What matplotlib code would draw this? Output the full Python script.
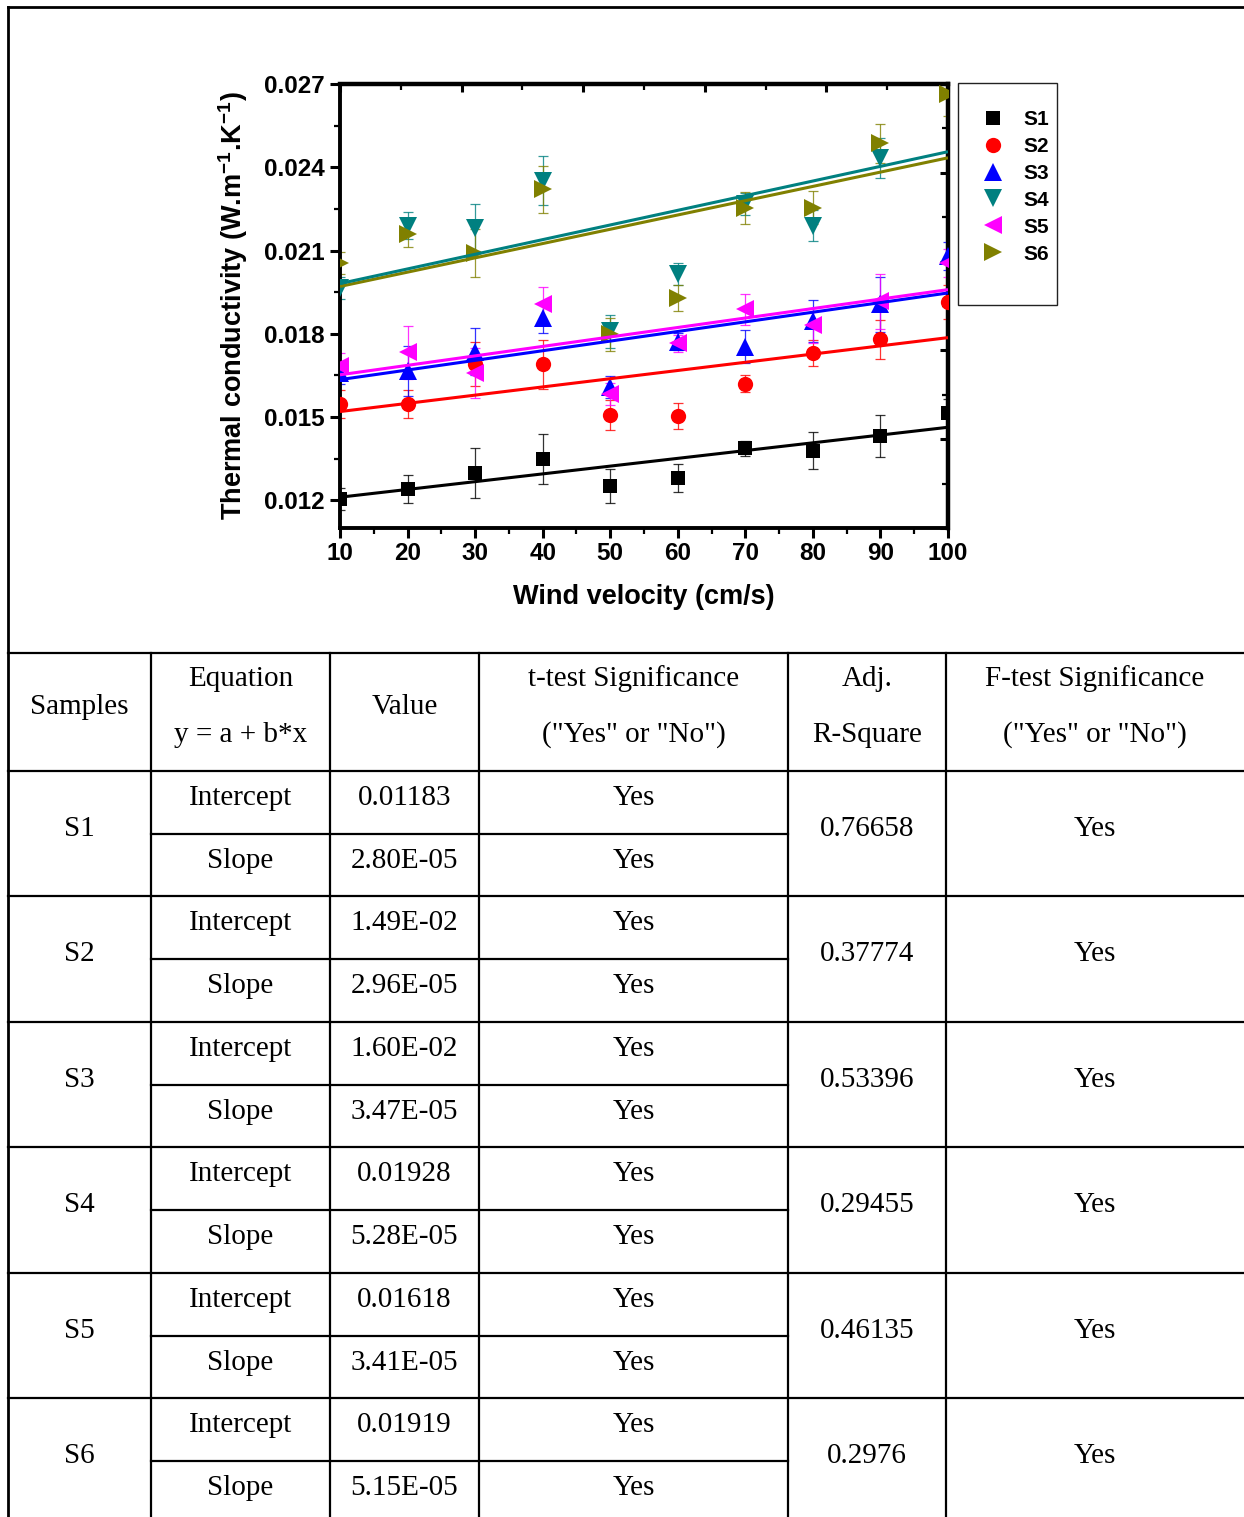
import numpy as np
import matplotlib
matplotlib.use("Agg")
import matplotlib.pyplot as plt
from matplotlib.patches import Rectangle
from matplotlib.ticker import MultipleLocator, FixedLocator, FormatStrFormatter

# ---------------- data ----------------
velocity = [10, 20, 30, 40, 50, 60, 70, 80, 90, 100]

s1_k = [0.01204, 0.01240, 0.01298, 0.01349, 0.01251, 0.01280, 0.01388, 0.01378, 0.01432, 0.01515]
s1_err = [0.00040, 0.00050, 0.00090, 0.00090, 0.00060, 0.00050, 0.00027, 0.00067, 0.00075, 0.00050]

s2_k = [0.01548, 0.01548, 0.01690, 0.01690, 0.01508, 0.01504, 0.01620, 0.01730, 0.01780, 0.01914]
s2_err = [0.00050, 0.00050, 0.00080, 0.00088, 0.00055, 0.00047, 0.00030, 0.00047, 0.00070, 0.00060]

s3_k = [0.01660, 0.01667, 0.01736, 0.01856, 0.01609, 0.01772, 0.01754, 0.01845, 0.01906, 0.02080]
s3_err = [0.00040, 0.00090, 0.00085, 0.00055, 0.00040, 0.00030, 0.00060, 0.00075, 0.00100, 0.00050]

s4_k = [0.01965, 0.02190, 0.02182, 0.02352, 0.01809, 0.02015, 0.02269, 0.02190, 0.02432, 0.02740]
s4_err = [0.00040, 0.00050, 0.00085, 0.00087, 0.00060, 0.00040, 0.00040, 0.00055, 0.00072, 0.00060]

s5_k = [0.01682, 0.01733, 0.01657, 0.01907, 0.01584, 0.01765, 0.01888, 0.01830, 0.01917, 0.02055]
s5_err = [0.00050, 0.00095, 0.00090, 0.00060, 0.00040, 0.00030, 0.00056, 0.00063, 0.00100, 0.00050]

s6_k = [0.02055, 0.02160, 0.02091, 0.02320, 0.01798, 0.01928, 0.02254, 0.02254, 0.02486, 0.02663]
s6_err = [0.00040, 0.00047, 0.00085, 0.00085, 0.00060, 0.00047, 0.00058, 0.00060, 0.00070, 0.00080]

samples = ["S1", "S2", "S3", "S4", "S5", "S6"]
intercept_text = ["0.01183", "1.49E-02", "1.60E-02", "0.01928", "0.01618", "0.01919"]
slope_text = ["2.80E-05", "2.96E-05", "3.47E-05", "5.28E-05", "3.41E-05", "5.15E-05"]
t_test_intercept = ["Yes", "Yes", "Yes", "Yes", "Yes", "Yes"]
t_test_slope = ["Yes", "Yes", "Yes", "Yes", "Yes", "Yes"]
adj_r2_text = ["0.76658", "0.37774", "0.53396", "0.29455", "0.46135", "0.2976"]
f_test = ["Yes", "Yes", "Yes", "Yes", "Yes", "Yes"]

header_cols = ["Samples", "Equation\ny = a + b*x", "Value",
               "t-test Significance\n(\"Yes\" or \"No\")", "Adj.\nR-Square",
               "F-test Significance\n(\"Yes\" or \"No\")"]

series_k = [s1_k, s2_k, s3_k, s4_k, s5_k, s6_k]
series_err = [s1_err, s2_err, s3_err, s4_err, s5_err, s6_err]

# ---------------- style ----------------
colors = ["#000000", "#ff0000", "#0000ff", "#008080", "#ff00ff", "#808000"]
markers = ["s", "o", "^", "v", "<", ">"]
marker_sizes = [10.5, 11, 13, 13, 13, 13]

plt.rcParams["font.family"] = ["Liberation Sans", "DejaVu Sans"]
plt.rcParams["font.weight"] = "bold"
plt.rcParams["mathtext.fontset"] = "custom"
plt.rcParams["mathtext.rm"] = "Liberation Sans:bold"
plt.rcParams["mathtext.default"] = "rm"

W, H = 1244, 1517
fig = plt.figure(figsize=(W / 100, H / 100), dpi=100)

# full-figure pixel canvas for the table and frames
tab = fig.add_axes([0, 0, 1, 1], zorder=0)
tab.set_xlim(0, W)
tab.set_ylim(H, 0)
tab.axis("off")

ax = fig.add_axes([340 / W, 1 - 528 / H, 608 / W, 444 / H], zorder=2)
ax.patch.set_alpha(0)

x = np.array(velocity, dtype=float)
x_fit = np.linspace(x.min(), x.max(), 50)
handles = []
for i in range(6):
    ax.errorbar(x, series_k[i], yerr=series_err[i], fmt="none", ecolor=colors[i],
                elinewidth=0.9, capsize=3.6, capthick=0.9, alpha=0.8, zorder=2)
    h, = ax.plot(x, series_k[i], linestyle="none", marker=markers[i], color=colors[i],
                 markersize=marker_sizes[i], markeredgewidth=0, label=samples[i], zorder=3)
    handles.append(h)

fit_order = [0, 1, 2, 4, 5, 3]
for i in fit_order:
    a = float(intercept_text[i])
    b = float(slope_text[i])
    ax.plot(x_fit, a + b * x_fit, color=colors[i], lw=2.2, zorder=4,
            solid_capstyle="butt")

ax.set_xlim(10, 100)
ax.set_ylim(0.011, 0.027)
ax.xaxis.set_major_locator(MultipleLocator(10))
ax.xaxis.set_minor_locator(MultipleLocator(5))
ax.yaxis.set_major_locator(FixedLocator([0.012, 0.015, 0.018, 0.021, 0.024, 0.027]))
ax.yaxis.set_minor_locator(FixedLocator([0.0105, 0.0135, 0.0165, 0.0195, 0.0225, 0.0255]))
ax.xaxis.set_major_formatter(FormatStrFormatter("%d"))
ax.yaxis.set_major_formatter(FormatStrFormatter("%.3f"))
ax.tick_params(axis="both", which="major", direction="out", length=7, width=2.2,
               labelsize=17.5, top=False, right=False)
ax.tick_params(axis="both", which="minor", direction="out", length=4, width=1.6,
               top=False, right=False)
ax.tick_params(axis="x", which="major", pad=3)
ax.tick_params(axis="y", which="major", pad=4)
for sp in ax.spines.values():
    sp.set_linewidth(2.8)

# mirrored top / right axes with their own 0-100 scale, ticks pointing inward
top = ax.secondary_xaxis("top", functions=(lambda v: (v - 10) / 90 * 100,
                                           lambda t: 10 + t * 0.9))
top.xaxis.set_major_locator(FixedLocator([0, 20, 40, 60, 80, 100]))
top.xaxis.set_minor_locator(FixedLocator([10, 30, 50, 70, 90]))
top.tick_params(which="major", direction="in", length=6, width=2.2, labeltop=False)
top.tick_params(which="minor", direction="in", length=4, width=1.6)
top.spines["top"].set_linewidth(3.2)

right = ax.secondary_yaxis("right", functions=(lambda v: (v - 0.011) / 0.016 * 100,
                                               lambda t: 0.011 + t * 0.016 / 100))
right.yaxis.set_major_locator(FixedLocator([0, 20, 40, 60, 80, 100]))
right.yaxis.set_minor_locator(FixedLocator([10, 30, 50, 70, 90]))
right.tick_params(which="major", direction="in", length=6, width=2.2, labelright=False)
right.tick_params(which="minor", direction="in", length=4, width=1.6)
right.spines["right"].set_linewidth(3.2)

ax.set_xlabel("Wind velocity (cm/s)", fontsize=19.5, fontweight="bold", labelpad=14)
ax.set_ylabel("Thermal conductivity (W.m$^{-1}$.K$^{-1}$)", fontsize=19.5,
              fontweight="bold", labelpad=10)

# legend with its own box
leg = ax.legend(handles=handles, loc="upper left", bbox_to_anchor=(983 / W, 1 - 110 / H),
                bbox_transform=fig.transFigure, frameon=False, fontsize=15,
                handlelength=1.0, handletextpad=0.95, labelspacing=0.38, borderpad=0,
                borderaxespad=0)
for t in leg.get_texts():
    t.set_fontweight("bold")
tab.add_patch(Rectangle((958, 83), 99, 222, fill=False, edgecolor="#222222", lw=1.0))

# ---------------- outer frame and table ----------------
line_kw = dict(color="black", lw=1.6, solid_capstyle="projecting")
tab.plot([8, W], [7, 7], color="black", lw=2.0)
tab.plot([8, 8], [7, H], color="black", lw=2.0)

col_edges = [8, 151, 330, 479, 788, 946, W]
header_top, header_bottom = 653, 771
row_h = 125.4
row_tops = [header_bottom + k * row_h for k in range(6)]

tab.plot([8, W], [header_top, header_top], **line_kw)
tab.plot([8, W], [header_bottom, header_bottom], **line_kw)
for rt in row_tops[1:]:
    tab.plot([8, W], [rt, rt], **line_kw)
for rt in row_tops:
    tab.plot([col_edges[1], col_edges[4]], [rt + 63, rt + 63], **line_kw)
for cx in col_edges[1:-1]:
    tab.plot([cx, cx], [header_top, H], **line_kw)

serif = ["Liberation Serif", "DejaVu Serif"]
tfs = 21
centers = [(col_edges[k] + col_edges[k + 1]) / 2 for k in range(6)]
centers[5] = 1095


def cell(xc, yc, s):
    tab.text(xc, yc + 3, s, ha="center", va="center", fontsize=tfs, family=serif,
             fontweight="normal")


for k, head in enumerate(header_cols):
    parts = head.split("\n")
    if len(parts) == 1:
        cell(centers[k], 704, parts[0])
    else:
        cell(centers[k], 676, parts[0])
        cell(centers[k], 732, parts[1])

for r in range(6):
    rt = row_tops[r]
    cell(centers[0], rt + 55, samples[r])
    cell(centers[1], rt + 24, "Intercept")
    cell(centers[2], rt + 24, intercept_text[r])
    cell(centers[3], rt + 24, t_test_intercept[r])
    cell(centers[1], rt + 87, "Slope")
    cell(centers[2], rt + 87, slope_text[r])
    cell(centers[3], rt + 87, t_test_slope[r])
    cell(centers[4], rt + 55, adj_r2_text[r])
    cell(centers[5], rt + 55, f_test[r])

fig.savefig("out.png", dpi=100, facecolor="white")
